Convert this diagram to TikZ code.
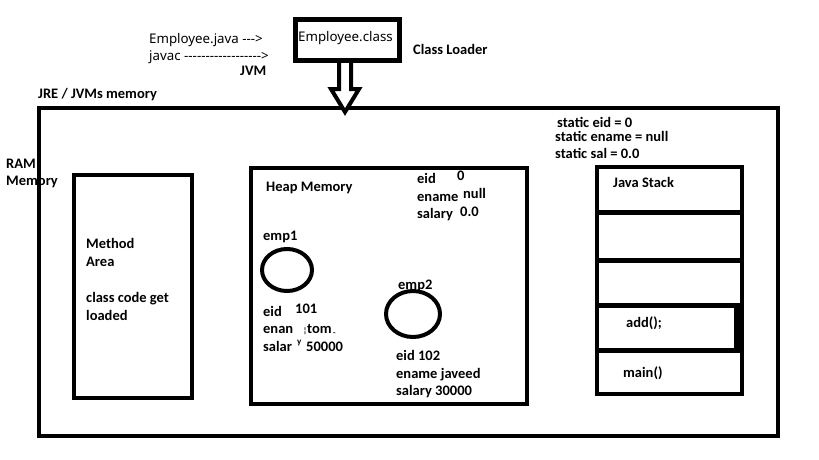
\documentclass[tikz,border=0pt]{standalone}
\usepackage{fontspec}
\setmainfont{Carlito}
\newfontfamily\regfont{Noto Sans}
\begin{document}
\begin{tikzpicture}[x=1pt,y=-1pt,
  txt/.style={inner sep=0pt,anchor=base west,font=\regfont\fontsize{13.3}{16}\selectfont},
  bt/.style={inner sep=0pt,anchor=base west,font=\fontsize{14.5}{18}\selectfont\bfseries},
  tiny/.style={inner sep=0pt,anchor=base west,font=\fontsize{8}{9}\selectfont\bfseries},
  box/.style={draw=black,line width=4pt,fill=white},
  divider/.style={draw=black,line width=5pt}]
\useasboundingbox (0,0) rectangle (819,460);
% outer JRE box
\node[box,minimum width=739pt,minimum height=328pt,inner sep=0pt,anchor=north west] (jre) at (37,106) {};
% Employee.class box and block arrow
\draw[line width=4pt,fill=white,line join=miter]
  (339,60) -- (339,89) -- (331,89) -- (345,112) -- (359,89) -- (351,89) -- (351,60) -- cycle;
\node[draw=black,line width=5pt,fill=white,minimum width=104pt,minimum height=41pt,inner sep=0pt,anchor=north west] (cls) at (293,17) {};
\node[txt] (clst) at (298,42) {Employee.class};
\node[bt] (loader) at (413,55) {Class Loader};
\node[txt] (java) at (149,44) {Employee.java -{}-{}->};
\node[txt] (javac) at (149,60) {javac -{}-{}-{}-{}-{}-{}-{}-{}-{}-{}-{}-{}-{}-{}-{}-{}-{}->};
\node[bt] (jvm) at (240,75) {JVM};
\node[bt] (jret) at (38,99) {JRE / JVMs memory};
\node[bt] (ram) at (6,168) {RAM};
\node[bt] (ramm) at (6,185) {Memory};
% Method area
\node[box,minimum width=118pt,minimum height=223pt,inner sep=0pt,anchor=north west] (meth) at (72,173) {};
\node[bt] (m1) at (86,248) {Method};
\node[bt] (m2) at (86,266) {Area};
\node[bt] (m3) at (86,302) {class code get};
\node[bt] (m4) at (86,320) {loaded};
% Heap
\node[box,minimum width=276pt,minimum height=236pt,inner sep=0pt,anchor=north west] (heap) at (249,166) {};
\node[bt] (heapt) at (266,191) {Heap Memory};
\node[bt] (h1) at (417,183) {eid};
\node[bt] (h1v) at (457,180) {0};
\node[bt] (h2) at (417,201) {ename};
\node[bt] (h2v) at (463,198) {null};
\node[bt] (h3) at (417,218) {salary};
\node[bt] (h3v) at (460,216) {0.0};
\node[bt] (emp1) at (263,240) {emp1};
\draw[line width=4pt] (287,270) ellipse [x radius=25, y radius=21];
\node[bt] (e1a) at (263,316) {eid};
\node[bt] (e1av) at (295,313) {101};
\node[bt] (e1b) at (263,333) {enan};
\node[tiny] (e1q) at (303,333) {¦};
\node[bt] (e1bv) at (307,333) {tom};
\node[tiny] (e1bd) at (333,335) {-};
\node[bt] (e1c) at (263,351) {salar};
\node[tiny,font=\fontsize{9}{9}\selectfont\bfseries] (e1y) at (297,344) {y};
\node[bt] (e1cv) at (306,351) {50000};
\node[bt] (emp2) at (398,289) {emp2};
\draw[line width=4pt] (413,314) ellipse [x radius=27, y radius=23];
\node[bt] (e2a) at (396,360) {eid 102};
\node[bt] (e2b) at (396,378) {ename javeed};
\node[bt] (e2c) at (396,395) {salary 30000};
% statics
\node[bt] (s1) at (557,127) {static eid = 0};
\node[bt] (s2) at (555,141) {static ename = null};
\node[bt] (s3) at (555,158) {static sal = 0.0};
% Java stack
\node[box,minimum width=145pt,minimum height=227pt,inner sep=0pt,anchor=north west] (stack) at (595,165) {};
\draw[divider] (stack.west |- 0,212) -- (stack.east |- 0,212);
\draw[divider] (stack.west |- 0,260) -- (stack.east |- 0,260);
\draw[divider] (stack.west |- 0,305) -- (stack.east |- 0,305);
\draw[divider] (stack.west |- 0,350) -- (stack.east |- 0,350);
\draw[line width=6pt] (737,305) -- (737,350);
\node[bt] (st) at (613,187) {Java Stack};
\node[bt] (add) at (626,327) {add();};
\node[bt] (main) at (623,377) {main()};
\end{tikzpicture}
\end{document}
